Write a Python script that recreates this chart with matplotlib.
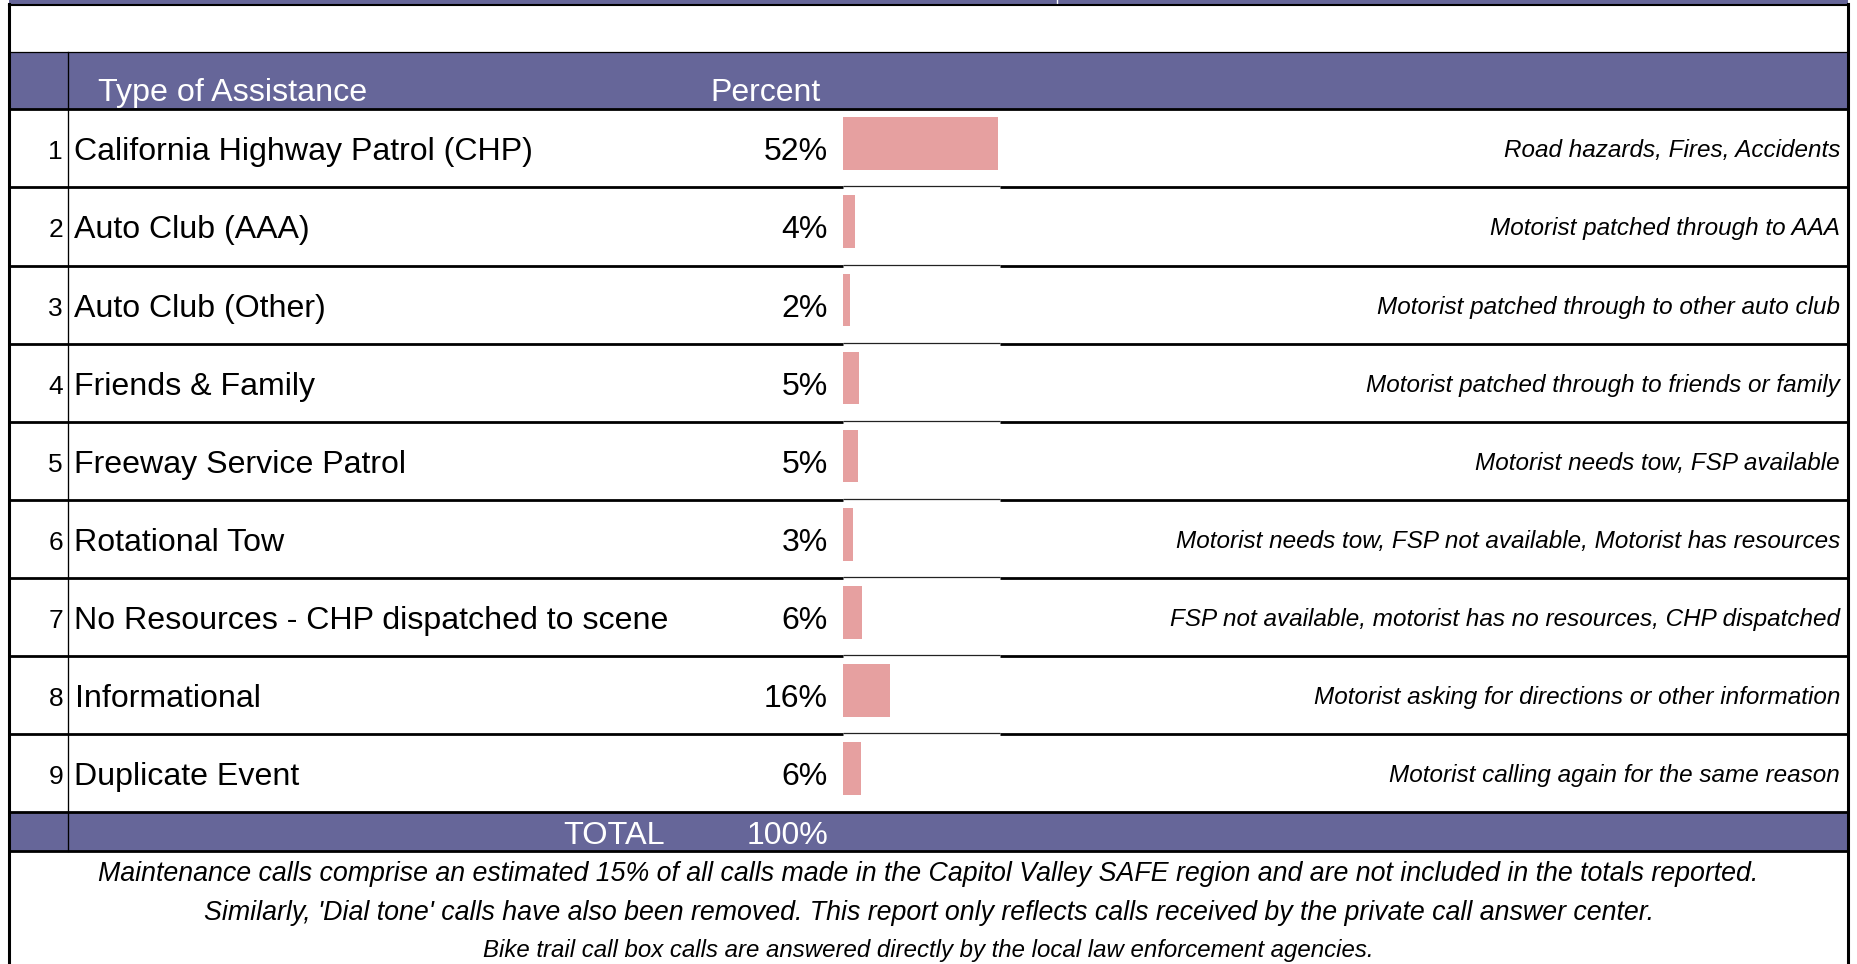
import numpy as np
import matplotlib
matplotlib.use('Agg')
import matplotlib.pyplot as plt
from matplotlib.patches import Rectangle

# data
row_numbers = ['1', '2', '3', '4', '5', '6', '7', '8', '9']
assistance = ['California Highway Patrol (CHP)', 'Auto Club (AAA)', 'Auto Club (Other)',
              'Friends & Family', 'Freeway Service Patrol', 'Rotational Tow',
              'No Resources - CHP dispatched to scene', 'Informational', 'Duplicate Event']
percent_labels = ['52%', '4%', '2%', '5%', '5%', '3%', '6%', '16%', '6%']
percent_values = [51.6, 4.2, 2.3, 5.3, 5.0, 3.3, 6.4, 15.8, 6.0]
descriptions = ['Road hazards, Fires, Accidents',
                'Motorist patched through to AAA',
                'Motorist patched through to other auto club',
                'Motorist patched through to friends or family',
                'Motorist needs tow, FSP available',
                'Motorist needs tow, FSP not available, Motorist has resources',
                'FSP not available, motorist has no resources, CHP dispatched',
                'Motorist asking for directions or other information',
                'Motorist calling again for the same reason']
total_label = 'TOTAL'
total_value = '100%'
notes = ['Maintenance calls comprise an estimated 15% of all calls made in the Capitol Valley SAFE region and are not included in the totals reported.',
         "Similarly, 'Dial tone' calls have also been removed. This report only reflects calls received by the private call answer center.",
         'Bike trail call box calls are answered directly by the local law enforcement agencies.']

W, H = 1857, 964
purple = '#666699'
pink = '#E6A0A0'
font = 'Liberation Sans'

fig = plt.figure(figsize=(W / 100, H / 100), dpi=100)
ax = fig.add_axes([0, 0, 1, 1])
ax.set_xlim(0, W)
ax.set_ylim(H, 0)
ax.axis('off')

x_left, x_right = 9.3, 1848
y_rows_top, y_rows_bot = 109.3, 812.3
n = len(assistance)
row_h = (y_rows_bot - y_rows_top) / n
bar_x0, bar_x1 = 842.7, 1000

# purple bands
ax.add_patch(Rectangle((x_left, 0), x_right - x_left, 4, color=purple, lw=0))
ax.add_patch(Rectangle((x_left, 51.5), x_right - x_left, y_rows_top - 51.5, color=purple, lw=0))
ax.add_patch(Rectangle((x_left, y_rows_bot), x_right - x_left, 850.7 - y_rows_bot, color=purple, lw=0))
ax.plot([1057, 1057], [0, 3.5], color='white', lw=1)

# borders
ax.plot([x_left, x_right], [4.5, 4.5], color='black', lw=1.5)
ax.plot([x_left, x_right], [51.5, 51.5], color='black', lw=0.9)
ax.plot([x_left, x_right], [y_rows_top, y_rows_top], color='black', lw=2.0)
ax.plot([x_left, x_right], [y_rows_bot, y_rows_bot], color='black', lw=2.0)
ax.plot([x_left, x_right], [850.7, 850.7], color='black', lw=2.0)
ax.plot([x_left, x_left], [3.5, H], color='black', lw=2.2)
ax.plot([x_right, x_right], [3.5, H], color='black', lw=2.2)
ax.plot([68, 68], [51.5, 850.7], color='black', lw=0.95)

for i in range(1, n):
    y = y_rows_top + i * row_h
    ax.plot([x_left, bar_x0], [y, y], color='black', lw=2.0, solid_capstyle='butt')
    ax.plot([bar_x1, x_right], [y, y], color='black', lw=2.0, solid_capstyle='butt')
    ax.plot([bar_x0, bar_x1], [y - 1, y - 1], color='#222222', lw=0.9, solid_capstyle='butt')

# header
ax.text(98, 101, 'Type of Assistance', color='white', fontsize=23.2, family=font, ha='left', va='baseline')
ax.text(821, 101, 'Percent', color='white', fontsize=23, family=font, ha='right', va='baseline')

# rows
for i in range(n):
    yb = y_rows_top + (i + 0.5) * row_h + 12
    ax.text(63, yb - 1, row_numbers[i], fontsize=19, family=font, ha='right', va='baseline')
    ax.text(74.5, yb, assistance[i], fontsize=23.1, family=font, ha='left', va='baseline')
    ax.text(828, yb, percent_labels[i], fontsize=23, family=font, ha='right', va='baseline')
    ax.text(1840, yb - 3, descriptions[i], fontsize=17.5, family=font, style='italic',
            ha='right', va='baseline')

# total row
ax.text(665, 844, total_label, color='white', fontsize=23.4, family=font, ha='right', va='baseline')
ax.text(828, 844, total_value, color='white', fontsize=23, family=font, ha='right', va='baseline')

# notes
note_y = [871.5, 910.5, 948.5]
note_size = [19.3, 19.3, 17.3]
for t, y, s in zip(notes, note_y, note_size):
    ax.text(W / 2, y + s * 0.5, t, fontsize=s, family=font, style='italic', ha='center', va='baseline')

# bars
bax = fig.add_axes([bar_x0 / W, 1 - y_rows_bot / H, (bar_x1 - bar_x0) / W, (y_rows_bot - y_rows_top) / H])
bax.set_xlim(0, (bar_x1 - bar_x0) / 3.005)
bax.set_ylim(n + 0.5, 0.5)
rows = np.arange(1, n + 1)
bax.barh(rows - 0.06, percent_values, height=0.675, color=pink, left=0)
bax.axis('off')

fig.savefig('out.png', dpi=100)
